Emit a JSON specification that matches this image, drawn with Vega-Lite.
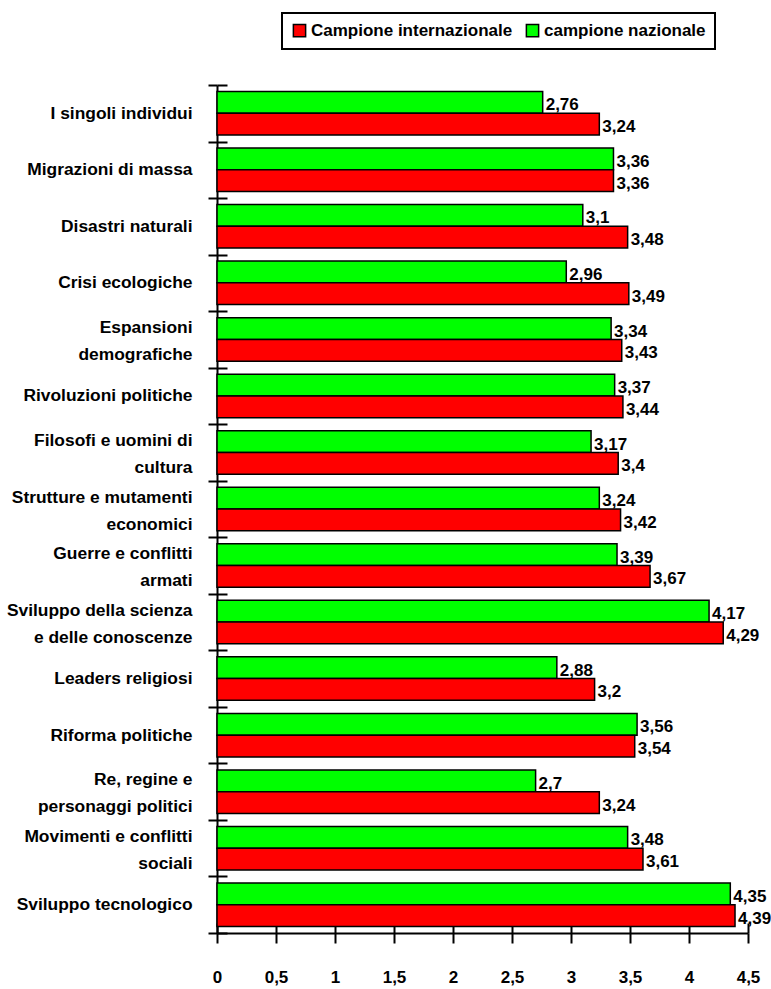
{
  "$schema": "https://vega.github.io/schema/vega-lite/v6.json",
  "width": 531,
  "height": 848,
  "autosize": {"type": "none"},
  "padding": {"left": 217, "top": 85, "right": 23, "bottom": 56},
  "background": "white",
  "config": {
    "locale": {"number": {"decimal": ",", "thousands": ".", "grouping": [3], "currency": ["", " €"]}},
    "view": {"stroke": null},
    "font": "Liberation Sans",
    "legend": {"strokeWidth": 2}
  },
  "data": {
    "values": [
      {"cat": "I singoli individui", "serie": "campione nazionale", "val": 2.76},
      {"cat": "I singoli individui", "serie": "Campione internazionale", "val": 3.24},
      {"cat": "Migrazioni di massa", "serie": "campione nazionale", "val": 3.36},
      {"cat": "Migrazioni di massa", "serie": "Campione internazionale", "val": 3.36},
      {"cat": "Disastri naturali", "serie": "campione nazionale", "val": 3.1},
      {"cat": "Disastri naturali", "serie": "Campione internazionale", "val": 3.48},
      {"cat": "Crisi ecologiche", "serie": "campione nazionale", "val": 2.96},
      {"cat": "Crisi ecologiche", "serie": "Campione internazionale", "val": 3.49},
      {"cat": "Espansioni\ndemografiche", "serie": "campione nazionale", "val": 3.34},
      {"cat": "Espansioni\ndemografiche", "serie": "Campione internazionale", "val": 3.43},
      {"cat": "Rivoluzioni politiche", "serie": "campione nazionale", "val": 3.37},
      {"cat": "Rivoluzioni politiche", "serie": "Campione internazionale", "val": 3.44},
      {"cat": "Filosofi e uomini di\ncultura", "serie": "campione nazionale", "val": 3.17},
      {"cat": "Filosofi e uomini di\ncultura", "serie": "Campione internazionale", "val": 3.4},
      {"cat": "Strutture e mutamenti\neconomici", "serie": "campione nazionale", "val": 3.24},
      {"cat": "Strutture e mutamenti\neconomici", "serie": "Campione internazionale", "val": 3.42},
      {"cat": "Guerre e conflitti\narmati", "serie": "campione nazionale", "val": 3.39},
      {"cat": "Guerre e conflitti\narmati", "serie": "Campione internazionale", "val": 3.67},
      {"cat": "Sviluppo della scienza\ne delle conoscenze", "serie": "campione nazionale", "val": 4.17},
      {"cat": "Sviluppo della scienza\ne delle conoscenze", "serie": "Campione internazionale", "val": 4.29},
      {"cat": "Leaders religiosi", "serie": "campione nazionale", "val": 2.88},
      {"cat": "Leaders religiosi", "serie": "Campione internazionale", "val": 3.2},
      {"cat": "Riforma politiche", "serie": "campione nazionale", "val": 3.56},
      {"cat": "Riforma politiche", "serie": "Campione internazionale", "val": 3.54},
      {"cat": "Re, regine e\npersonaggi politici", "serie": "campione nazionale", "val": 2.7},
      {"cat": "Re, regine e\npersonaggi politici", "serie": "Campione internazionale", "val": 3.24},
      {"cat": "Movimenti e conflitti\nsociali", "serie": "campione nazionale", "val": 3.48},
      {"cat": "Movimenti e conflitti\nsociali", "serie": "Campione internazionale", "val": 3.61},
      {"cat": "Sviluppo tecnologico", "serie": "campione nazionale", "val": 4.35},
      {"cat": "Sviluppo tecnologico", "serie": "Campione internazionale", "val": 4.39}
    ]
  },
  "layer": [
    {
      "mark": {"type": "bar", "stroke": "black", "strokeWidth": 1.5},
      "encoding": {
        "y": {
          "field": "cat", "type": "nominal", "sort": null,
          "scale": {"paddingInner": 0, "paddingOuter": 0},
          "axis": {
            "orient": "left", "title": null, "tickBand": "extent",
            "tickSize": 9, "tickColor": "black", "tickWidth": 2,
            "domainColor": "black", "domainWidth": 2,
            "labelPadding": 16, "labelAlign": "right",
            "labelFontSize": 17.4, "labelFontWeight": "bold", "labelColor": "black",
            "labelLineHeight": 27, "labelLimit": 300,
            "labelOffset": {"condition": {"test": "isString(datum.value) && indexof(datum.value, '\\n') >= 0", "value": -12}, "value": 0},
            "labelExpr": "isValid(datum.value) ? split(datum.value, '\\n') : ''"
          }
        },
        "yOffset": {"field": "serie", "type": "nominal", "sort": ["campione nazionale", "Campione internazionale"], "scale": {"paddingInner": 0, "paddingOuter": 0.3}},
        "x": {
          "field": "val", "type": "quantitative",
          "scale": {"domain": [0, 4.5], "nice": false},
          "axis": {
            "orient": "bottom", "title": null, "values": [0, 0.5, 1, 1.5, 2, 2.5, 3, 3.5, 4, 4.5],
            "format": ".1~f", "grid": false,
            "tickSize": 10, "tickColor": "black", "tickWidth": 2,
            "domainColor": "black", "domainWidth": 2,
            "labelPadding": 26, "labelFontSize": 17, "labelFontWeight": "bold", "labelColor": "black",
            "labelFlush": false, "labelOverlap": false
          }
        },
        "color": {
          "field": "serie", "type": "nominal",
          "sort": ["Campione internazionale", "campione nazionale"],
          "scale": {"domain": ["Campione internazionale", "campione nazionale"], "range": ["#FF0000", "#00FF00"]},
          "legend": {
            "title": null, "orient": "none", "legendX": 65, "legendY": -72,
            "direction": "horizontal", "columns": 2,
            "symbolType": "square", "symbolSize": 150, "symbolStrokeColor": "black", "symbolStrokeWidth": 1.5,
            "symbolOpacity": 1,
            "labelFontSize": 17, "labelFontWeight": "bold", "labelColor": "black", "labelOffset": 3, "labelLimit": 400,
            "columnPadding": 10, "padding": 9,
            "strokeColor": "black", "fillColor": "white"
          }
        }
      }
    },
    {
      "mark": {"type": "text", "align": "left", "baseline": "middle", "dx": 3, "dy": 3, "fontWeight": "bold", "fontSize": 17, "color": "black"},
      "encoding": {
        "y": {
          "field": "cat", "type": "nominal", "sort": null,
          "axis": {"orient": "left", "title": null, "tickBand": "extent", "tickSize": -10, "tickColor": "black", "tickWidth": 2, "labels": false, "domain": false}
        },
        "yOffset": {"field": "serie", "type": "nominal", "sort": ["campione nazionale", "Campione internazionale"]},
        "x": {
          "field": "val", "type": "quantitative",
          "axis": {"orient": "bottom", "title": null, "values": [0, 0.5, 1, 1.5, 2, 2.5, 3, 3.5, 4, 4.5], "grid": false, "tickSize": -10, "tickColor": "black", "tickWidth": 2, "labels": false, "domain": false}
        },
        "text": {"field": "val", "type": "quantitative", "format": ".2~f"}
      }
    }
  ],
  "resolve": {"axis": {"x": "independent", "y": "independent"}}
}
